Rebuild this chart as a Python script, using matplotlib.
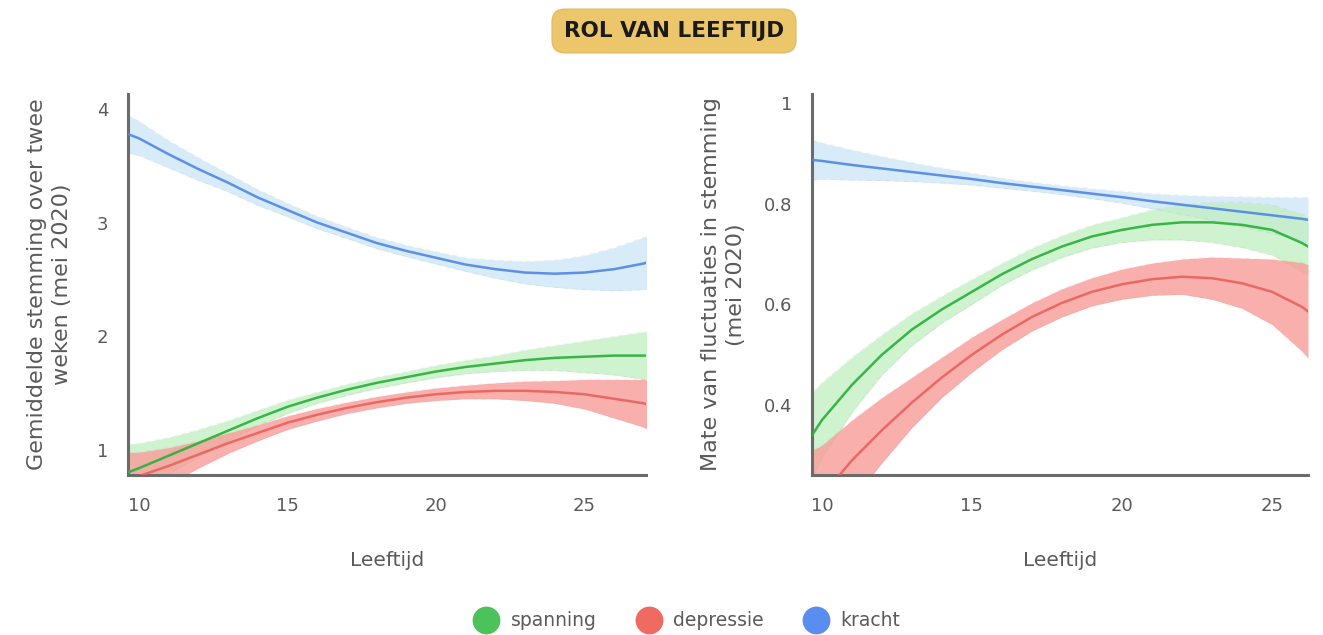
import matplotlib
matplotlib.use("Agg")
import matplotlib.pyplot as plt
import numpy as np
from matplotlib.lines import Line2D
from matplotlib.ticker import FuncFormatter

# ---------------- data ----------------
series_names = ["spanning", "depressie", "kracht"]

# Left panel: Gemiddelde stemming
ages_left = [9.6, 10, 11, 12, 13, 14, 15, 16, 17, 18, 19, 20, 21, 22, 23, 24, 25, 26, 27, 27.1]
left_spanning = [0.80, 0.84, 0.95, 1.06, 1.17, 1.28, 1.38, 1.46, 1.53, 1.59, 1.64, 1.69, 1.73, 1.76, 1.79, 1.81, 1.82, 1.83, 1.83, 1.83]
left_spanning_ci = [0.25, 0.22, 0.16, 0.12, 0.09, 0.07, 0.06, 0.05, 0.05, 0.05, 0.05, 0.055, 0.06, 0.07, 0.09, 0.11, 0.14, 0.17, 0.21, 0.215]
left_depressie = [0.74, 0.77, 0.86, 0.96, 1.06, 1.15, 1.24, 1.31, 1.37, 1.42, 1.46, 1.49, 1.51, 1.52, 1.52, 1.51, 1.49, 1.45, 1.41, 1.40]
left_depressie_ci = [0.24, 0.21, 0.16, 0.12, 0.09, 0.07, 0.06, 0.055, 0.05, 0.05, 0.05, 0.055, 0.06, 0.07, 0.085, 0.10, 0.13, 0.17, 0.21, 0.215]
left_kracht = [3.78, 3.74, 3.60, 3.47, 3.35, 3.22, 3.11, 3.00, 2.91, 2.82, 2.75, 2.69, 2.63, 2.59, 2.56, 2.55, 2.56, 2.59, 2.64, 2.65]
left_kracht_ci = [0.17, 0.15, 0.12, 0.10, 0.08, 0.07, 0.06, 0.055, 0.05, 0.05, 0.05, 0.055, 0.06, 0.08, 0.10, 0.12, 0.15, 0.19, 0.23, 0.235]

# Right panel: Mate van fluctuaties
ages_right = [9.67, 10, 11, 12, 13, 14, 15, 16, 17, 18, 19, 20, 21, 22, 23, 24, 25, 26, 26.2]
right_spanning = [0.34, 0.37, 0.44, 0.50, 0.55, 0.59, 0.625, 0.66, 0.69, 0.715, 0.735, 0.748, 0.758, 0.763, 0.763, 0.758, 0.748, 0.722, 0.715]
right_spanning_ci = [0.085, 0.075, 0.055, 0.04, 0.032, 0.027, 0.025, 0.022, 0.022, 0.022, 0.023, 0.025, 0.03, 0.035, 0.04, 0.045, 0.05, 0.057, 0.058]
right_depressie = [0.20, 0.22, 0.29, 0.35, 0.405, 0.455, 0.50, 0.54, 0.575, 0.603, 0.625, 0.64, 0.65, 0.655, 0.652, 0.642, 0.625, 0.595, 0.586]
right_depressie_ci = [0.11, 0.10, 0.08, 0.065, 0.05, 0.04, 0.035, 0.03, 0.028, 0.028, 0.028, 0.03, 0.032, 0.035, 0.042, 0.05, 0.065, 0.088, 0.093]
right_kracht = [0.887, 0.885, 0.877, 0.870, 0.863, 0.856, 0.849, 0.841, 0.834, 0.827, 0.820, 0.813, 0.805, 0.798, 0.791, 0.784, 0.777, 0.770, 0.768]
right_kracht_ci = [0.04, 0.036, 0.03, 0.024, 0.019, 0.015, 0.012, 0.01, 0.009, 0.009, 0.01, 0.012, 0.015, 0.019, 0.024, 0.03, 0.036, 0.043, 0.045]

left_yticks = [1, 2, 3, 4]
right_yticks = [0.4, 0.6, 0.8, 1.0]
xticks = [10, 15, 20, 25]

# ---------------- style ----------------
line_colors = {"spanning": "#2fb33e", "depressie": "#e8615c", "kracht": "#4f86e6"}
band_colors = {"spanning": "#bfeec0", "depressie": "#f89c98", "kracht": "#d4e9f8"}
legend_colors = {"spanning": "#4cc35a", "depressie": "#ef6b61", "kracht": "#5a8df0"}
band_alpha = {"spanning": 0.75, "depressie": 0.8, "kracht": 0.9}

plt.rcParams["font.family"] = ["DejaVu Sans"]
txt = "#5a5a5a"
spine_c = "#6b6b6b"

fig = plt.figure(figsize=(13.23, 6.35), dpi=100)
axL = fig.add_axes([128 / 1323, 1 - 475 / 635, (646 - 128) / 1323, (475 - 94) / 635])
axR = fig.add_axes([812 / 1323, 1 - 475 / 635, (1308 - 812) / 1323, (475 - 94) / 635])

def draw(ax, ages, data):
    x = np.array(ages)
    for name in ["kracht", "spanning", "depressie"]:
        m, ci = data[name]
        m = np.array(m); ci = np.array(ci)
        ax.fill_between(x, m - ci, m + ci, color=band_colors[name], alpha=band_alpha[name], lw=0, zorder=1)
        for edge in (m - ci, m + ci):
            ax.plot(x, edge, ls=(0, (6, 5)), lw=0.6, color="#aaaaaa", alpha=0.18, zorder=1.5)
    for name in ["kracht", "depressie", "spanning"]:
        m, ci = data[name]
        ax.plot(x, m, color=line_colors[name], lw=1.8, zorder=3,
                alpha=0.9 if name != "spanning" else 0.95)

draw(axL, ages_left, {"spanning": (left_spanning, left_spanning_ci),
                      "depressie": (left_depressie, left_depressie_ci),
                      "kracht": (left_kracht, left_kracht_ci)})
draw(axR, ages_right, {"spanning": (right_spanning, right_spanning_ci),
                       "depressie": (right_depressie, right_depressie_ci),
                       "kracht": (right_kracht, right_kracht_ci)})

axL.set_xlim(9.63, 27.07)
axL.set_ylim(0.78, 4.13)
axR.set_xlim(9.67, 26.2)
axR.set_ylim(0.261, 1.018)

def fmt(v, pos):
    return f"{v:g}"

for ax, yt in ((axL, left_yticks), (axR, right_yticks)):
    ax.set_xticks(xticks)
    ax.set_yticks(yt)
    ax.yaxis.set_major_formatter(FuncFormatter(fmt))
    for s in ("top", "right"):
        ax.spines[s].set_visible(False)
    for s in ("left", "bottom"):
        ax.spines[s].set_color(spine_c)
        ax.spines[s].set_linewidth(2.2)
    ax.tick_params(length=0, labelsize=13, colors=txt, pad=16)
    ax.tick_params(axis="y", pad=14)
    ax.set_xlabel("Leeftijd", fontsize=14.5, color=txt, labelpad=26)
    ax.set_facecolor("none")

axL.set_ylabel("Gemiddelde stemming over twee\nweken (mei 2020)", fontsize=16, color=txt, labelpad=18, linespacing=1.3)
axR.set_ylabel("Mate van fluctuaties in stemming\n(mei 2020)", fontsize=16, color=txt, labelpad=13, linespacing=1.3)

# title box
fig.text(674 / 1323, 1 - 31 / 635, "ROL VAN LEEFTIJD", ha="center", va="center",
         fontsize=15.5, fontweight="bold", color="#1a1a1a",
         bbox=dict(boxstyle="round,pad=0.55,rounding_size=0.6", fc="#ecc66b", ec="#e3bc62", lw=1))

# legend
handles = [Line2D([0], [0], marker="o", ls="none", markersize=19,
                  markerfacecolor=legend_colors[n], markeredgecolor=legend_colors[n]) for n in series_names]
fig.legend(handles, series_names, loc="center", bbox_to_anchor=(684 / 1323, 1 - 621 / 635),
           ncol=3, frameon=False, fontsize=13.5, labelcolor=txt, handletextpad=0.3, columnspacing=1.8)

fig.savefig("out.png", dpi=100, facecolor="white")
